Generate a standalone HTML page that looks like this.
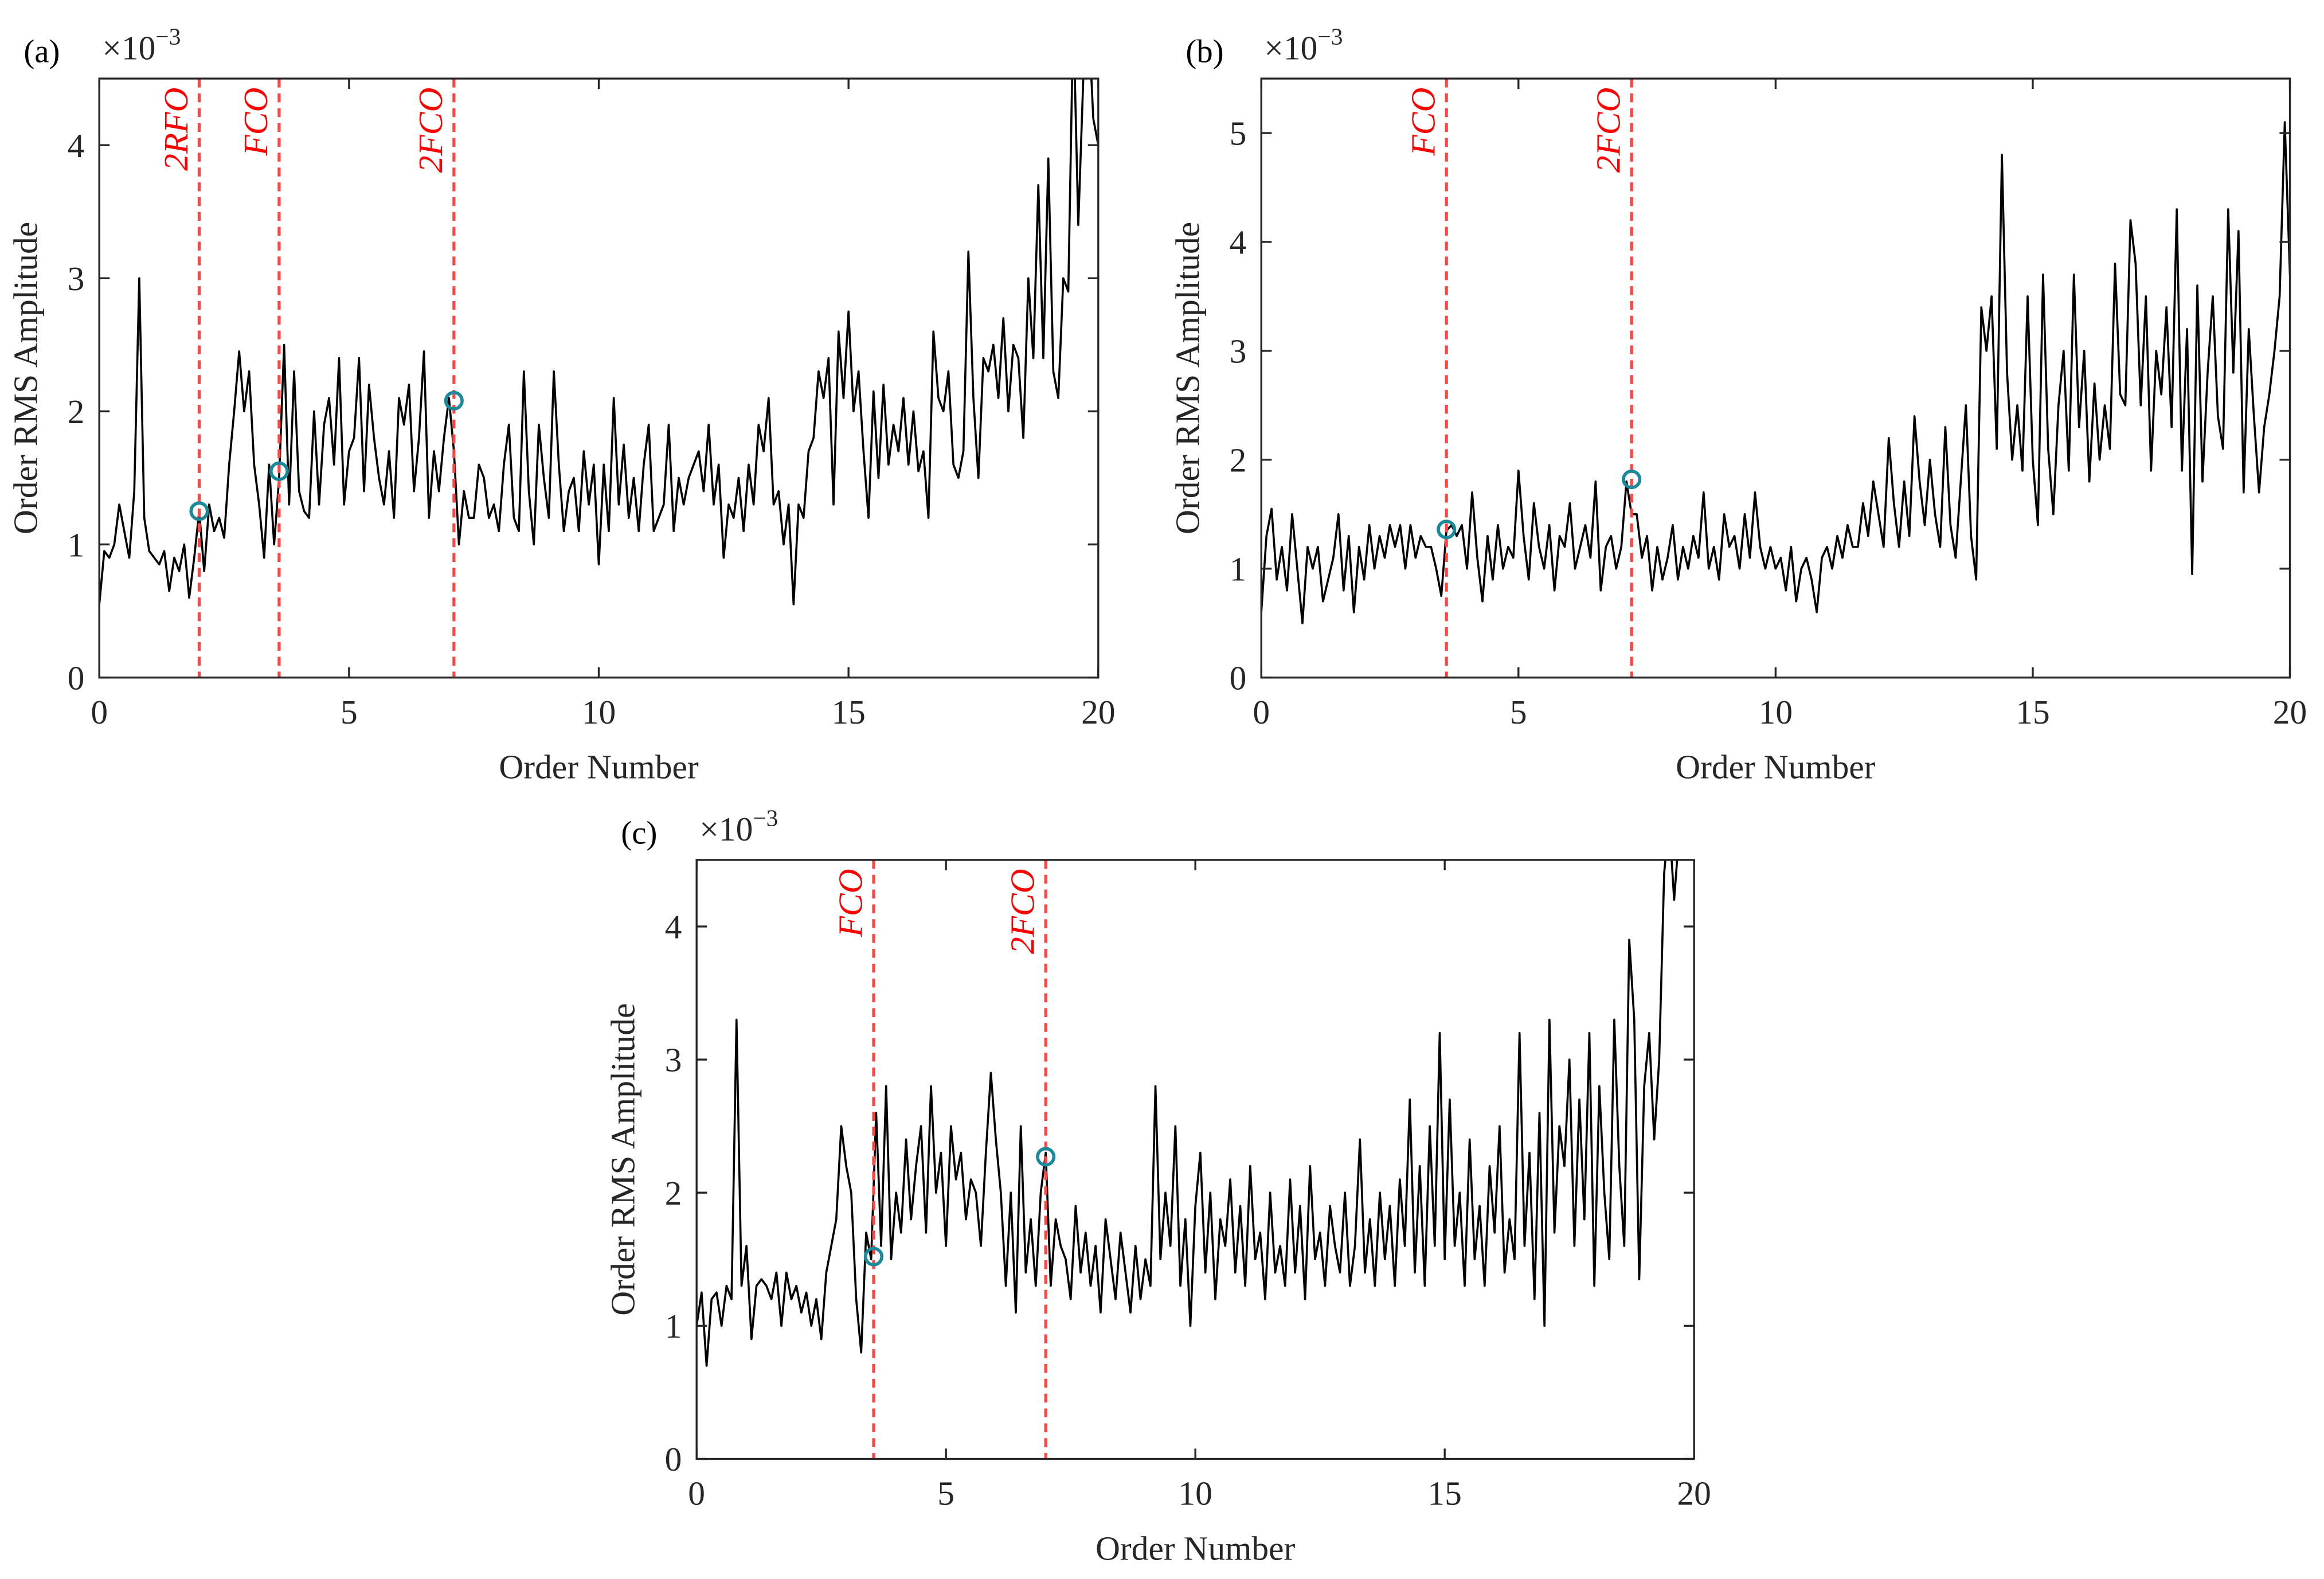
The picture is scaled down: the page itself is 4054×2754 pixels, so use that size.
<!DOCTYPE html>
<html><head><meta charset="utf-8"><style>
html,body{margin:0;padding:0;background:#fff;}
svg{display:block;font-family:"Liberation Serif",serif;}
</style></head><body>
<svg id="fig" width="4054" height="2754" viewBox="0 0 1568 1065" preserveAspectRatio="none" xmlns="http://www.w3.org/2000/svg"></svg>
<script>
const orders = [];
for (let i = 0; i <= 200; i++) orders.push(i / 10);
const seriesA = [0.55,0.95,0.9,1.0,1.3,1.1,0.9,1.4,3.0,1.2,
0.95,0.9,0.85,0.95,0.65,0.9,0.8,1.0,0.6,0.9,
1.25,0.8,1.3,1.1,1.2,1.05,1.6,2.0,2.45,2.0,
2.3,1.6,1.3,0.9,1.6,1.0,1.5,2.5,1.3,2.3,
1.4,1.25,1.2,2.0,1.3,1.9,2.1,1.6,2.4,1.3,
1.7,1.8,2.4,1.4,2.2,1.8,1.5,1.3,1.7,1.2,
2.1,1.9,2.2,1.4,1.8,2.45,1.2,1.7,1.4,1.8,
2.1,1.7,1.0,1.4,1.2,1.2,1.6,1.5,1.2,1.3,
1.1,1.6,1.9,1.2,1.1,2.3,1.4,1.0,1.9,1.5,
1.2,2.3,1.6,1.1,1.4,1.5,1.1,1.7,1.3,1.6,
0.85,1.6,1.1,2.1,1.3,1.75,1.2,1.5,1.1,1.6,
1.9,1.1,1.2,1.3,1.9,1.1,1.5,1.3,1.5,1.6,
1.7,1.4,1.9,1.3,1.6,0.9,1.3,1.2,1.5,1.1,
1.6,1.3,1.9,1.7,2.1,1.3,1.4,1.0,1.3,0.55,
1.3,1.2,1.7,1.8,2.3,2.1,2.4,1.3,2.6,2.1,
2.75,2.0,2.3,1.7,1.2,2.15,1.5,2.2,1.6,1.9,
1.7,2.1,1.6,2.0,1.55,1.7,1.2,2.6,2.1,2.0,
2.3,1.6,1.5,1.7,3.2,2.1,1.5,2.4,2.3,2.5,
2.1,2.7,2.0,2.5,2.4,1.8,3.0,2.4,3.7,2.4,
3.9,2.3,2.1,3.0,2.9,5.0,3.4,4.5,5.0,4.2,4.0];
const seriesB = [0.6,1.3,1.55,0.9,1.2,0.8,1.5,1.0,0.5,1.2,
1.0,1.2,0.7,0.9,1.1,1.5,0.8,1.3,0.6,1.2,
0.9,1.4,1.0,1.3,1.1,1.4,1.2,1.4,1.0,1.4,
1.1,1.3,1.2,1.2,1.0,0.75,1.35,1.4,1.3,1.4,
1.0,1.7,1.1,0.7,1.3,0.9,1.4,1.0,1.2,1.1,
1.9,1.3,0.9,1.6,1.2,1.0,1.4,0.8,1.3,1.2,
1.6,1.0,1.2,1.4,1.1,1.8,0.8,1.2,1.3,1.0,
1.2,1.8,1.5,1.5,1.1,1.3,0.8,1.2,0.9,1.1,
1.4,0.9,1.2,1.0,1.3,1.1,1.7,1.0,1.2,0.9,
1.5,1.2,1.3,1.0,1.5,1.1,1.7,1.2,1.0,1.2,
1.0,1.1,0.8,1.2,0.7,1.0,1.1,0.9,0.6,1.1,
1.2,1.0,1.3,1.1,1.4,1.2,1.2,1.6,1.3,1.8,
1.5,1.2,2.2,1.6,1.2,1.8,1.3,2.4,1.8,1.4,
2.0,1.5,1.2,2.3,1.4,1.1,1.8,2.5,1.3,0.9,
3.4,3.0,3.5,2.1,4.8,2.8,2.0,2.5,1.9,3.5,
2.0,1.4,3.7,2.1,1.5,2.5,3.0,1.9,3.7,2.3,
3.0,1.8,2.7,2.0,2.5,2.1,3.8,2.6,2.5,4.2,
3.8,2.5,3.5,1.9,3.0,2.6,3.4,2.3,4.3,1.9,
3.2,0.95,3.6,1.8,2.8,3.5,2.4,2.1,4.3,2.8,
4.1,1.7,3.2,2.4,1.7,2.3,2.6,3.0,3.5,5.1,3.7];
const seriesC = [1.0,1.25,0.7,1.2,1.25,1.0,1.3,1.2,3.3,1.3,
1.6,0.9,1.3,1.35,1.3,1.2,1.4,1.0,1.4,1.2,
1.3,1.1,1.25,1.0,1.2,0.9,1.4,1.6,1.8,2.5,
2.2,2.0,1.2,0.8,1.7,1.5,2.6,1.6,2.8,1.5,
2.0,1.7,2.4,1.8,2.2,2.5,1.7,2.8,2.0,2.3,
1.6,2.5,2.1,2.3,1.8,2.1,2.0,1.6,2.3,2.9,
2.4,2.0,1.3,2.0,1.1,2.5,1.4,1.8,1.3,2.0,
2.3,1.3,1.8,1.6,1.5,1.2,1.9,1.4,1.7,1.3,
1.6,1.1,1.8,1.5,1.2,1.7,1.4,1.1,1.6,1.2,
1.5,1.3,2.8,1.5,2.0,1.6,2.5,1.3,1.8,1.0,
1.9,2.3,1.4,2.0,1.2,1.8,1.6,2.1,1.4,1.9,
1.3,2.2,1.5,1.7,1.2,2.0,1.4,1.6,1.3,2.1,
1.4,1.9,1.2,2.2,1.5,1.7,1.3,1.9,1.6,1.4,
2.0,1.3,1.6,2.4,1.4,1.8,1.3,2.0,1.5,1.9,
1.3,2.1,1.6,2.7,1.4,2.2,1.3,2.5,1.6,3.2,
1.5,2.7,1.6,2.0,1.3,2.4,1.5,1.9,1.3,2.2,
1.7,2.5,1.4,1.8,1.5,3.2,1.6,2.3,1.2,2.6,
1.0,3.3,1.7,2.5,2.2,3.0,1.6,2.7,1.8,3.2,
1.3,2.8,2.0,1.5,3.3,2.2,1.6,3.9,3.3,1.35,
2.8,3.2,2.4,3.0,4.4,4.8,4.2,4.7,4.5,4.6,4.6];
const xTicks = [0,5,10,15,20];
const yTicksA = [0,1,2,3,4];
const yTicksB = [0,1,2,3,4,5];
const yTicksC = [0,1,2,3,4];
const markersAx = [2.0,3.6,7.1];
const markersAy = [1.25,1.55,2.08];
const markersBx = [3.6,7.2];
const markersBy = [1.36,1.82];
const markersCx = [3.55,7.0];
const markersCy = [1.52,2.27];
const labelsA = ["2RFO","FCO","2FCO"];
const labelsB = ["FCO","2FCO"];
const labelsC = ["FCO","2FCO"];

const NS = "http://www.w3.org/2000/svg";
const fig = document.getElementById('fig');
function mk(tag, attrs, parent){const e=document.createElementNS(NS,tag);for(const k in attrs)e.setAttribute(k,attrs[k]);(parent||fig).appendChild(e);return e;}

function panel(id, L, R, T, B, ymax, yTicks, series, mx, my, labels){
  const g = mk('g',{});
  
  
  const sx = v => L + (v/20)*(R-L);
  const sy = v => B - (v/ymax)*(B-T);
  const cid = 'clip'+id;
  const cp = mk('clipPath',{id:cid},g); mk('rect',{x:L,y:T,width:R-L,height:B-T},cp);
  let d='';
  for(let i=0;i<series.length;i++){d+=(i?'L':'M')+sx(orders[i]).toFixed(2)+' '+sy(series[i]).toFixed(2);}
  const p = mk('path',{d:d,fill:'none',stroke:'#000','stroke-width':1.4,'stroke-linejoin':'round','clip-path':'url(#'+cid+')'},g);
  
  
  for(let i=0;i<mx.length;i++){
    const ln = mk('line',{x1:sx(mx[i]),x2:sx(mx[i]),y1:T,y2:B,stroke:'#f44','stroke-width':2,'stroke-dasharray':'6,4'},g);
    
    
    const tx = sx(mx[i])-8, ty = T+6;
    const t = mk('text',{x:0,y:0,transform:'translate('+tx+','+ty+') rotate(-90)','text-anchor':'end',fill:'#f00','font-size':23,'font-style':'italic'},g);
    t.textContent = labels[i];
    
    
    const c = mk('circle',{cx:sx(mx[i]),cy:sy(my[i]),r:5.5,fill:'none',stroke:'#1a8a9a','stroke-width':2.2},g);
    
    
  }
  const box = mk('rect',{x:L,y:T,width:R-L,height:B-T,fill:'none',stroke:'#262626','stroke-width':1.3},g);
  
  
  for(const v of xTicks){
    const x=sx(v);
    mk('line',{x1:x,x2:x,y1:B,y2:B-7,stroke:'#262626','stroke-width':1.3},g);
    mk('line',{x1:x,x2:x,y1:T,y2:T+7,stroke:'#262626','stroke-width':1.3},g);
    const t=mk('text',{x:x,y:B+31,'text-anchor':'middle','font-size':23,fill:'#262626'},g);
    t.textContent=v;
    
    
  }
  for(const v of yTicks){
    const y=sy(v);
    mk('line',{x1:L,x2:L+7,y1:y,y2:y,stroke:'#262626','stroke-width':1.3},g);
    mk('line',{x1:R,x2:R-7,y1:y,y2:y,stroke:'#262626','stroke-width':1.3},g);
    const t=mk('text',{x:L-10,y:y+8,'text-anchor':'end','font-size':23,fill:'#262626'},g);
    t.textContent=v;
    
    
  }
  const xt=mk('text',{x:(L+R)/2,y:B+68,'text-anchor':'middle','font-size':23,fill:'#262626'},g);
  xt.textContent='Order Number';
  
  
  const yx=L-42, yy=(T+B)/2;
  const yt=mk('text',{x:0,y:0,transform:'translate('+yx+','+yy+') rotate(-90)','text-anchor':'middle','font-size':23,fill:'#262626'},g);
  yt.textContent='Order RMS Amplitude';
  
  
  const ex=mk('text',{x:L+2,y:T-13,'font-size':23,fill:'#262626'},g);
  ex.innerHTML='×10<tspan dy="-10" font-size="16">−3</tspan>';
  
  
  const pl=mk('text',{x:L-51,y:T-11,'font-size':22,fill:'#000'},g);
  pl.textContent='('+id+')';
  
  
}
panel('a',67,741,53,457,4.5,yTicksA,seriesA,markersAx,markersAy,labelsA);
panel('b',851,1545,53,457,5.5,yTicksB,seriesB,markersBx,markersBy,labelsB);
panel('c',470,1143,580,984,4.5,yTicksC,seriesC,markersCx,markersCy,labelsC);
</script>
</body></html>
